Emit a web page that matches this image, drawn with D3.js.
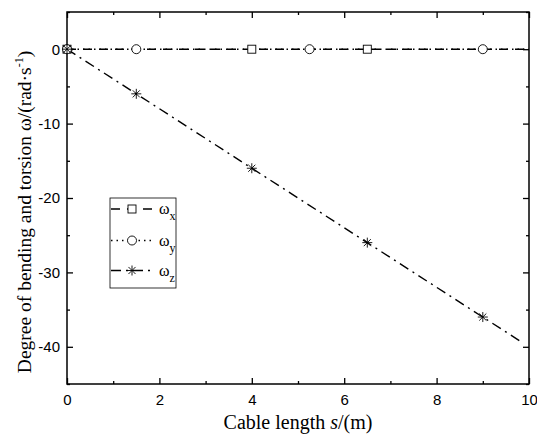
<!DOCTYPE html>
<html><head><meta charset="utf-8">
<script src="https://cdn.jsdelivr.net/npm/d3@7"></script>
<style>body{margin:0;background:#fff}svg{display:block}</style>
</head><body>
<svg id="c" width="537" height="440"></svg>
<script>
// data
const lineS = [0, 10];
const omegaX = [0, 0];
const omegaY = [0, 0];
const zLineS = [0, 1.5, 4, 6.5, 9, 9.8];
const omegaZ = [0, -6, -16, -26, -36, -39.2];
const xMarkS = [0, 4, 6.5];
const xMarkV = [0, 0, 0];
const yMarkS = [0, 1.5, 5.25, 9];
const yMarkV = [0, 0, 0, 0];
const zMarkS = [0, 1.5, 4, 6.5, 9];
const zMarkV = [0, -6, -16, -26, -36];
const xTicks = [0, 2, 4, 6, 8, 10];
const xMinor = [1, 3, 5, 7, 9];
const yTicks = [0, -10, -20, -30, -40];
const yMinor = [5, -5, -15, -25, -35, -45];

const svg = d3.select('#c');
const L = 67, R = 529, T = 12, B = 384;
const x = d3.scaleLinear().domain([0, 10]).range([L, R]);
const y = d3.scaleLinear().domain([-45, 5]).range([B, T]);

const g = svg.append('g');
g.append('rect').attr('x', L).attr('y', T).attr('width', R - L).attr('height', B - T)
  .attr('fill', 'none').attr('stroke', '#000').attr('stroke-width', 1.5);

function ticks(axisGen, tr) {
  const a = g.append('g').attr('transform', tr).call(axisGen);
  a.select('.domain').remove();
  a.selectAll('line').attr('stroke', '#000').attr('stroke-width', 1.3);
  a.selectAll('text').attr('font-family', 'Liberation Sans, Arial, sans-serif').attr('font-size', 15).attr('fill', '#000');
  return a;
}
const fmt = d => (d < 0 ? '-' + Math.abs(d) : String(d));
ticks(d3.axisBottom(x).tickValues(xTicks).tickSizeInner(-6).tickSizeOuter(0).tickPadding(10).tickFormat(fmt), `translate(0,${B})`);
ticks(d3.axisBottom(x).tickValues(xMinor).tickSizeInner(-3).tickSizeOuter(0).tickFormat(''), `translate(0,${B})`);
ticks(d3.axisTop(x).tickValues(xTicks).tickSizeInner(-6).tickSizeOuter(0).tickFormat(''), `translate(0,${T})`);
ticks(d3.axisTop(x).tickValues(xMinor).tickSizeInner(-3).tickSizeOuter(0).tickFormat(''), `translate(0,${T})`);
ticks(d3.axisLeft(y).tickValues(yTicks).tickSizeInner(-6).tickSizeOuter(0).tickPadding(7).tickFormat(fmt), `translate(${L},0)`);
ticks(d3.axisLeft(y).tickValues(yMinor).tickSizeInner(-3).tickSizeOuter(0).tickFormat(''), `translate(${L},0)`);
ticks(d3.axisRight(y).tickValues(yTicks).tickSizeInner(-6).tickSizeOuter(0).tickFormat(''), `translate(${R},0)`);
ticks(d3.axisRight(y).tickValues(yMinor).tickSizeInner(-3).tickSizeOuter(0).tickFormat(''), `translate(${R},0)`);

const line = d3.line().x(d => x(d[0])).y(d => y(d[1]));
const styles = { x: '9,7', y: '1.5,4', z: '10,5,2,5' };
g.append('path').datum(d3.zip(lineS, omegaX)).attr('d', line).attr('fill', 'none').attr('stroke', '#000').attr('stroke-width', 1.4).attr('stroke-dasharray', styles.x);
g.append('path').datum(d3.zip(lineS, omegaY)).attr('d', line).attr('fill', 'none').attr('stroke', '#000').attr('stroke-width', 1.4).attr('stroke-dasharray', styles.y).attr('stroke-dashoffset', 6);
g.append('path').datum(d3.zip(zLineS, omegaZ)).attr('d', line).attr('fill', 'none').attr('stroke', '#000').attr('stroke-width', 1.4).attr('stroke-dasharray', styles.z);

function square(sel, cx, cy) {
  sel.append('rect').attr('x', cx - 4).attr('y', cy - 4).attr('width', 8).attr('height', 8)
    .attr('fill', '#fff').attr('stroke', '#000').attr('stroke-width', 0.9);
}
function circle(sel, cx, cy) {
  sel.append('circle').attr('cx', cx).attr('cy', cy).attr('r', 4.5)
    .attr('fill', '#fff').attr('stroke', '#000').attr('stroke-width', 0.9);
}
function star(sel, cx, cy) {
  const r = 5, p = [];
  for (let i = 0; i < 4; i++) {
    const a = Math.PI / 4 * i;
    p.push(`M${cx + r * Math.cos(a)},${cy + r * Math.sin(a)}L${cx - r * Math.cos(a)},${cy - r * Math.sin(a)}`);
  }
  sel.append('path').attr('d', p.join('')).attr('stroke', '#000').attr('stroke-width', 0.9).attr('fill', 'none');
}
xMarkS.forEach((s, i) => square(g, x(s), y(xMarkV[i])));
yMarkS.forEach((s, i) => circle(g, x(s), y(yMarkV[i])));
zMarkS.forEach((s, i) => star(g, x(s), y(zMarkV[i])));

// legend
const lg = g.append('g');
lg.append('rect').attr('x', 110).attr('y', 198).attr('width', 66).attr('height', 90)
  .attr('fill', '#fff').attr('stroke', '#000').attr('stroke-width', 0.8);
const legendItems = [
  { key: 'x', sub: 'x', y: 209, mk: square },
  { key: 'y', sub: 'y', y: 240.5, mk: circle },
  { key: 'z', sub: 'z', y: 270.5, mk: star }
];
legendItems.forEach(it => {
  lg.append('line').attr('x1', 111).attr('x2', 155).attr('y1', it.y).attr('y2', it.y)
    .attr('stroke', '#000').attr('stroke-width', 1.4).attr('stroke-dasharray', styles[it.key]);
  it.mk(lg, 132, it.y);
  const t = lg.append('text').attr('x', 159).attr('y', it.y + 5)
    .attr('font-family', 'Liberation Serif, Times New Roman, serif').attr('font-size', 16).attr('fill', '#000');
  t.append('tspan').text('ω');
  t.append('tspan').attr('dy', 6).attr('font-size', 12).text(it.sub);
});

// axis titles
const xt = svg.append('text').attr('x', 298).attr('y', 429).attr('text-anchor', 'middle')
  .attr('font-family', 'Liberation Serif, Times New Roman, serif').attr('font-size', 20).attr('fill', '#000');
xt.append('tspan').text('Cable length ');
xt.append('tspan').attr('font-style', 'italic').text('s');
xt.append('tspan').text('/(m)');

const yt = svg.append('text').attr('transform', 'translate(31,212) rotate(-90)').attr('text-anchor', 'middle')
  .attr('font-family', 'Liberation Serif, Times New Roman, serif').attr('font-size', 19.5).attr('fill', '#000');
yt.append('tspan').text('Degree of bending and torsion ω/(rad·s');
yt.append('tspan').attr('dy', -8).attr('font-size', 12).text('-1');
yt.append('tspan').attr('dy', 8).text(')');
</script>
</body></html>
